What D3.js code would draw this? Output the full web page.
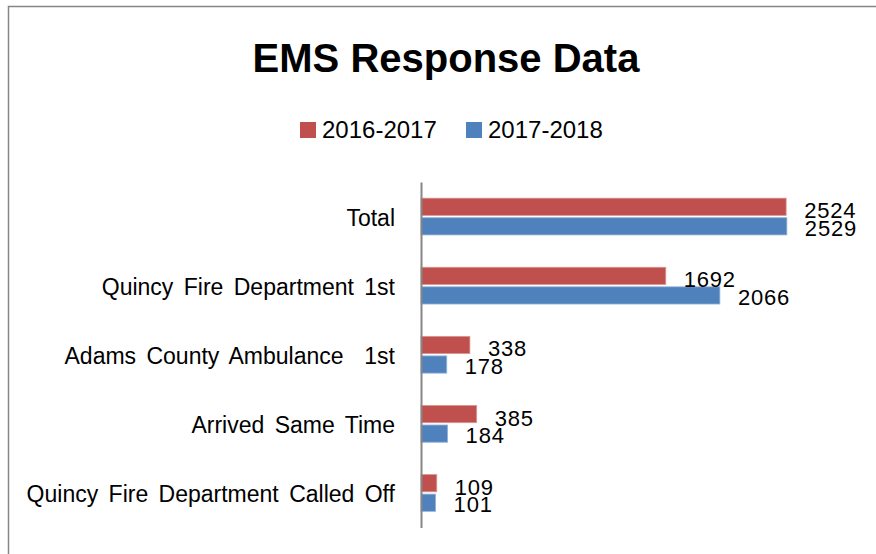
<!DOCTYPE html>
<html>
<head>
<meta charset="utf-8">
<script src="https://cdn.jsdelivr.net/npm/d3@7"></script>
<style>
  html, body { margin: 0; padding: 0; background: #fff; }
  svg { display: block; }
  text { font-family: "Liberation Sans", Arial, sans-serif; fill: #000; }
</style>
</head>
<body>
<svg id="chart" width="876" height="554"></svg>
<script>
const categories = ["Total", "Quincy Fire Department 1st", "Adams County Ambulance  1st", "Arrived Same Time", "Quincy Fire Department Called Off"];
const seriesNames = ["2016-2017", "2017-2018"];
const values2016 = [2524, 1692, 338, 385, 109];
const values2017 = [2529, 2066, 178, 184, 101];
const colors = ["#C0504D", "#4F81BD"];
const strokes = ["#D99694", "#95B3D7"];
const title = "EMS Response Data";

const svg = d3.select("#chart");

// chart border
svg.append("rect")
  .attr("x", 8.5).attr("y", 6.5)
  .attr("width", 1000).attr("height", 1000)
  .attr("fill", "#fff").attr("stroke", "#868686").attr("stroke-width", 1.5);

// title
svg.append("text")
  .attr("x", 446).attr("y", 72)
  .attr("text-anchor", "middle")
  .style("font-size", "40px").style("font-weight", "bold")
  .text(title);

// legend
const legendX = [300, 466];
seriesNames.forEach((name, i) => {
  const g = svg.append("g").attr("transform", `translate(${legendX[i]},122)`);
  g.append("rect").attr("width", 16).attr("height", 16).attr("fill", colors[i]);
  g.append("text").attr("x", 22).attr("y", 16).style("font-size", "24px").text(name);
});

const margin = {left: 421, top: 182, bottom: 527.5};
const x = d3.scaleLinear().domain([0, 3000]).range([margin.left, margin.left + 434]);
const y0 = d3.scaleBand().domain(categories).range([margin.top, margin.bottom])
  .paddingInner(0.4).paddingOuter(0.2);
const y1 = d3.scaleBand().domain(seriesNames).range([0, y0.bandwidth()]).padding(0.12);

const data = categories.map((c, i) => ({
  cat: c,
  vals: [
    {series: seriesNames[0], v: values2016[i], ci: 0},
    {series: seriesNames[1], v: values2017[i], ci: 1}
  ]
}));

const groups = svg.selectAll("g.cat").data(data).enter().append("g")
  .attr("class", "cat")
  .attr("transform", d => `translate(0,${y0(d.cat)})`);

groups.selectAll("rect").data(d => d.vals).enter().append("rect")
  .attr("x", x(0))
  .attr("y", d => y1(d.series))
  .attr("width", d => x(d.v) - x(0))
  .attr("height", y1.bandwidth())
  .attr("fill", d => colors[d.ci])
  .attr("stroke", d => strokes[d.ci])
  .attr("stroke-width", 0.8);

groups.selectAll("text.val").data(d => d.vals).enter().append("text")
  .attr("class", "val")
  .attr("x", d => x(d.v) + 18)
  .attr("y", d => y1(d.series) + y1.bandwidth() / 2 + (d.ci === 0 ? 11.5 : 9.5))
  .style("font-size", "22px")
  .style("letter-spacing", "0.8px")
  .text(d => d.v);

// category axis
const yAxis = d3.axisLeft(y0).tickSize(0).tickPadding(26);
const ag = svg.append("g").attr("transform", `translate(${x(0)},0)`).call(yAxis);
ag.select(".domain").attr("stroke", "#868686").attr("stroke-width", 2);
ag.selectAll(".tick text")
  .style("font-size", "23px")
  .style("font-family", "'Liberation Sans', Arial, sans-serif")
  .style("word-spacing", "4px")
  .attr("fill", "#000")
  .attr("dy", "0.4em")
  .style("white-space", "pre");
</script>
</body>
</html>
